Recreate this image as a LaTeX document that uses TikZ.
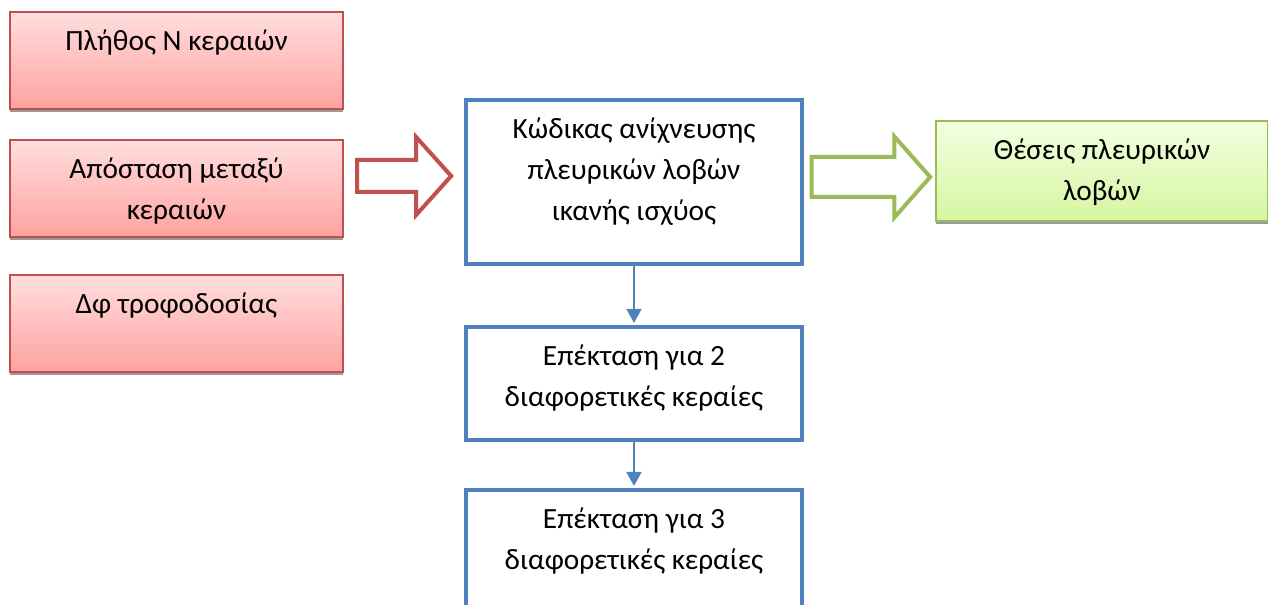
\documentclass[tikz,border=0pt]{standalone}
\usepackage{fontspec}
\setmainfont{Carlito}
\usepackage{tikz}
\usetikzlibrary{shapes.arrows,shadows,arrows.meta}

\definecolor{redline}{RGB}{192,80,77}
\definecolor{redtop}{RGB}{255,222,222}
\definecolor{redbottom}{RGB}{255,162,160}
\definecolor{greenline}{RGB}{155,187,89}
\definecolor{greentop}{RGB}{242,255,226}
\definecolor{greenbottom}{RGB}{214,246,160}
\definecolor{blueline}{RGB}{79,129,189}

\newcommand{\boxtext}[3]{\parbox[t][#2][t]{#1}{\centering\rule{0pt}{29pt}#3}}

\tikzset{
  textbox/.style={anchor=north west, inner sep=0pt, font=\fontsize{22}{30.75}\selectfont},
  redbox/.style={textbox, draw=redline, line width=1.5pt, top color=redtop, bottom color=redbottom,
    drop shadow={shadow xshift=0pt, shadow yshift=-2.2pt, fill=black!40, opacity=1}},
  greenbox/.style={textbox, draw=greenline, line width=1.5pt, top color=greentop, bottom color=greenbottom,
    drop shadow={shadow xshift=0pt, shadow yshift=-2.2pt, fill=black!40, opacity=1}},
  bluebox/.style={textbox, draw=blueline, line width=3pt, fill=white},
  hollowarrow/.style={single arrow, inner xsep=0pt, line width=3pt, fill=white},
  flowline/.style={blueline, line width=2pt, -{Triangle[length=10.5pt, width=11pt]}, shorten >=1.5pt}
}

\begin{document}
\begin{tikzpicture}[x=0.75pt, y=-0.75pt]
    \useasboundingbox (0,0) rectangle (1268,605);
    % inputs
    \node[redbox] (count) at (9,11) {\boxtext{249.75pt}{72.75pt}{Πλήθος Ν κεραιών}};
    \node[redbox] (dist) at (9,139) {\boxtext{249.75pt}{72.75pt}{Απόσταση μεταξύ\\ κεραιών}};
    \node[redbox] (phase) at (9,274) {\boxtext{249.75pt}{72.75pt}{Δφ τροφοδοσίας}};
    % code blocks
    \node[bluebox] (code) at (464,98) {\boxtext{252pt}{123pt}{Κώδικας ανίχνευσης\\ πλευρικών λοβών\\ ικανής ισχύος}};
    \node[bluebox] (ext2) at (464,325) {\boxtext{252pt}{84.75pt}{Επέκταση για 2\\ διαφορετικές κεραίες}};
    \node[bluebox] (ext3) at (464,488) {\boxtext{252pt}{120pt}{Επέκταση για 3\\ διαφορετικές κεραίες}};
    % output
    \node[greenbox] (lobes) at (935,120) {\boxtext{249pt}{75pt}{Θέσεις πλευρικών\\ λοβών}};
    % block arrows
    \node[hollowarrow, draw=redline, inner ysep=10.5pt, minimum height=70.5pt, minimum width=55.5pt,
      single arrow head extend=17.25pt, single arrow tip angle=96] (inarrow) at (397,176) {};
    \node[hollowarrow, draw=greenline, inner ysep=13.5pt, minimum height=89pt, minimum width=57.75pt,
      single arrow head extend=15.4pt, single arrow tip angle=97] (outarrow) at (862,177) {};
    % flow
    \draw[flowline] (code.south) -- (ext2.north);
    \draw[flowline] (ext2.south) -- (ext3.north);
\end{tikzpicture}
\end{document}
